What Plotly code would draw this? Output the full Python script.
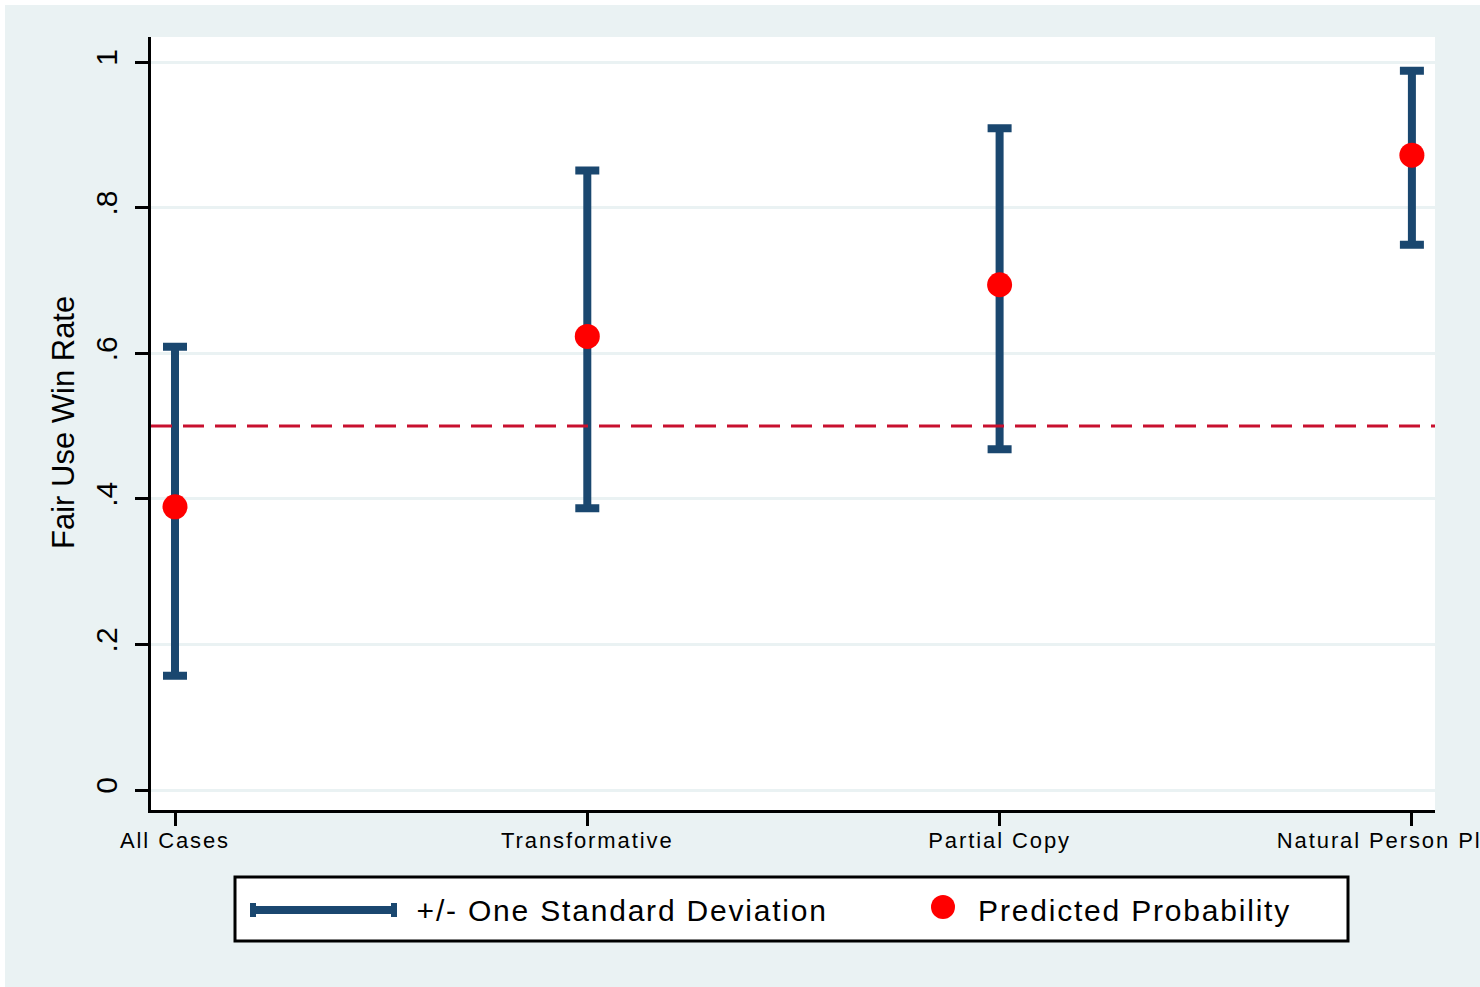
import plotly.graph_objects as go

# ---- data ----
categories = ["All Cases", "Transformative", "Partial Copy", "Natural Person Plaintiff"]
predicted = [0.389, 0.623, 0.694, 0.872]
upper = [0.609, 0.851, 0.909, 0.988]
lower = [0.157, 0.387, 0.468, 0.749]
reference_level = 0.5
ytick_vals = [0, 0.2, 0.4, 0.6, 0.8, 1.0]
ytick_text = ["0", ".2", ".4", ".6", ".8", "1"]
legend_labels = ["+/- One Standard Deviation", "Predicted Probability"]

W, H = 1480, 987
ML, MR, MT, MB = 151, 45, 37, 177
PW, PH = W - ML - MR, H - MT - MB

NAVY = "#1a476f"
RED = "#ff0000"
BG = "#eaf2f3"
FONT = "Liberation Sans, Arial, sans-serif"


def px_x(p):
    return (p - ML) / PW


def px_y(p):
    return (H - MB - p) / PH


xs = list(range(len(categories)))

fig = go.Figure()
fig.add_trace(go.Scatter(
    x=xs, y=predicted, mode="markers",
    marker=dict(size=1, color="rgba(0,0,0,0)"),
    error_y=dict(type="data", symmetric=False,
                 array=[u - p for u, p in zip(upper, predicted)],
                 arrayminus=[p - l for p, l in zip(predicted, lower)],
                 color=NAVY, thickness=8, width=12),
    showlegend=False, hoverinfo="skip"))
fig.add_trace(go.Scatter(
    x=xs, y=predicted, mode="markers",
    marker=dict(size=25, color=RED, line=dict(width=0)),
    showlegend=False))

shapes = []
# white outer strips (left / top)
shapes.append(dict(type="rect", xref="paper", yref="paper", layer="below",
                   x0=px_x(0), x1=px_x(5), y0=px_y(H), y1=px_y(0),
                   fillcolor="white", line=dict(width=0)))
shapes.append(dict(type="rect", xref="paper", yref="paper", layer="below",
                   x0=px_x(0), x1=px_x(W), y0=px_y(5), y1=px_y(0),
                   fillcolor="white", line=dict(width=0)))
# reference line
shapes.append(dict(type="line", xref="paper", yref="y", x0=0, x1=1,
                   y0=reference_level, y1=reference_level,
                   line=dict(color="#c8102e", width=3, dash="21px,11px")))
# legend box
shapes.append(dict(type="rect", xref="paper", yref="paper",
                   x0=px_x(235), x1=px_x(1348), y0=px_y(941), y1=px_y(877),
                   fillcolor="white", line=dict(color="black", width=3)))
shapes.append(dict(type="line", xref="paper", yref="paper",
                   x0=px_x(252), x1=px_x(396), y0=px_y(910), y1=px_y(910),
                   line=dict(color=NAVY, width=8)))
for cx in (253, 394):
    shapes.append(dict(type="line", xref="paper", yref="paper",
                       x0=px_x(cx), x1=px_x(cx), y0=px_y(917), y1=px_y(903),
                       line=dict(color=NAVY, width=6)))
shapes.append(dict(type="circle", xref="paper", yref="paper",
                   x0=px_x(931), x1=px_x(955), y0=px_y(919), y1=px_y(895),
                   fillcolor=RED, line=dict(width=0)))

annotations = [
    dict(text=legend_labels[0], xref="paper", yref="paper", x=px_x(621.5), y=px_y(910),
         xanchor="center", yanchor="middle", showarrow=False,
         font=dict(size=30, color="black", family=FONT)),
    dict(text=legend_labels[1], xref="paper", yref="paper", x=px_x(1134), y=px_y(910),
         xanchor="center", yanchor="middle", showarrow=False,
         font=dict(size=30, color="black", family=FONT)),
    dict(text="Fair Use Win Rate", xref="paper", yref="paper", x=px_x(63), y=px_y(423),
         xanchor="center", yanchor="middle", textangle=-90, showarrow=False,
         font=dict(size=31, color="black", family=FONT)),
]

fig.update_layout(
    width=W, height=H,
    margin=dict(l=ML, r=MR, t=MT, b=MB, autoexpand=False),
    paper_bgcolor=BG, plot_bgcolor="white",
    font=dict(family=FONT, color="black"),
    shapes=shapes, annotations=annotations,
    showlegend=False,
    xaxis=dict(range=[(ML - 175) / 412.3, (W - MR - 175) / 412.3],
               tickmode="array", tickvals=xs, ticktext=categories,
               ticks="outside", ticklen=13, tickwidth=3, tickcolor="black",
               ticklabeloverflow="allow", ticklabelstandoff=-4,
               showline=True, linecolor="black", linewidth=3,
               showgrid=False, zeroline=False,
               tickfont=dict(size=22, color="black", family=FONT),
               automargin=False),
    yaxis=dict(range=[-20 / 728, (790 - MT) / 728],
               tickmode="array", tickvals=ytick_vals, ticktext=ytick_text,
               tickangle=-90, ticklabelstandoff=6,
               ticks="outside", ticklen=13, tickwidth=3, tickcolor="black",
               showline=True, linecolor="black", linewidth=3,
               showgrid=True, gridcolor=BG, gridwidth=3,
               zeroline=False,
               tickfont=dict(size=30, color="black", family=FONT),
               automargin=False),
)

post = """
document.body.style.margin='0';
var s=document.createElement('style');
s.textContent='body{margin:0;} .xtick text{letter-spacing:1.9px;} g.annotation[data-index="0"] text, g.annotation[data-index="1"] text{letter-spacing:1.8px;}';
document.head.appendChild(s);
"""

fig.write_html("out.html", config={"displayModeBar": False}, post_script=post)
